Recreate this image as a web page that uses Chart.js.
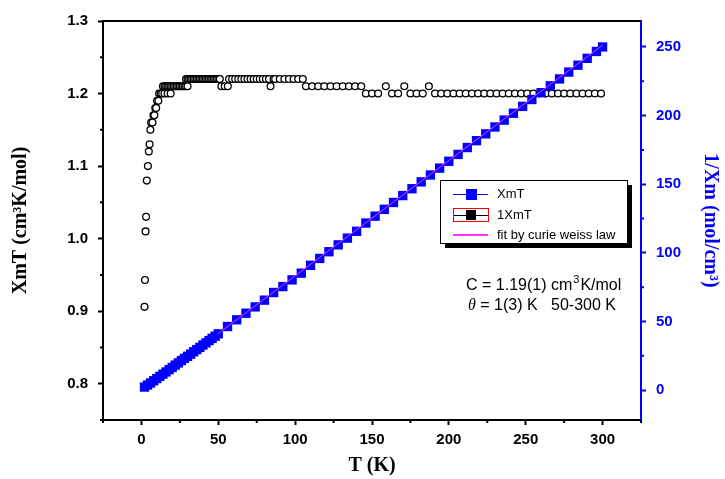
<!DOCTYPE html>
<html>
<head>
<meta charset="utf-8">
<script src="https://cdn.jsdelivr.net/npm/chart.js@4.4.0/dist/chart.umd.min.js"></script>
<style>
  html, body { margin: 0; padding: 0; background: #fff; }
  #wrap { width: 725px; height: 479px; }
</style>
</head>
<body>
<div id="wrap"><canvas id="chart" width="725" height="479"></canvas></div>
<script>
// XmT, open circles (left axis)
const circT = [2, 2.3, 2.7, 3.0, 3.5, 4.2, 4.8, 5.3, 5.8, 6.3, 7.2, 7.8, 8.4, 9.0, 9.6, 10.2, 11.0,
    11.5, 12.5, 13.5, 15, 17, 19,
    14, 15, 16, 17, 18, 19, 20, 21, 22, 23, 24, 25, 26, 27, 28, 29, 30,
    29, 30, 31, 32, 33, 34, 35, 36, 37, 38, 39, 40, 41, 42, 43, 44, 45, 46, 47, 48, 49, 50, 51,
    52, 54.2, 56.2,
    57, 59, 61, 63, 65, 67, 69, 71, 73, 75, 77, 79, 81, 83,
    84, 86, 87, 90, 93, 96, 99, 102, 105,
    107, 111, 115, 119, 123, 127, 131, 135, 139, 143,
    146, 150, 154, 159, 163, 167, 171, 175, 179, 183, 187,
    191, 195, 199, 203, 207, 211, 215, 219, 223, 227, 231, 235, 239, 243, 247, 251, 255, 259,
    263, 267, 271, 275, 279, 283, 287, 291, 295, 299]
const circV = [0.906, 0.943, 1.01, 1.03, 1.08, 1.10, 1.12, 1.13, 1.15, 1.16, 1.16, 1.17, 1.17, 1.18, 1.18, 1.19, 1.19,
    1.20, 1.20, 1.20, 1.20, 1.20, 1.20,
    1.21, 1.21, 1.21, 1.21, 1.21, 1.21, 1.21, 1.21, 1.21, 1.21, 1.21, 1.21, 1.21, 1.21, 1.21, 1.21, 1.21,
    1.22, 1.22, 1.22, 1.22, 1.22, 1.22, 1.22, 1.22, 1.22, 1.22, 1.22, 1.22, 1.22, 1.22, 1.22, 1.22, 1.22, 1.22, 1.22, 1.22, 1.22, 1.22, 1.22,
    1.21, 1.21, 1.21,
    1.22, 1.22, 1.22, 1.22, 1.22, 1.22, 1.22, 1.22, 1.22, 1.22, 1.22, 1.22, 1.22, 1.22,
    1.21, 1.22, 1.22, 1.22, 1.22, 1.22, 1.22, 1.22, 1.22,
    1.21, 1.21, 1.21, 1.21, 1.21, 1.21, 1.21, 1.21, 1.21, 1.21,
    1.20, 1.20, 1.20, 1.21, 1.20, 1.20, 1.21, 1.20, 1.20, 1.20, 1.21,
    1.20, 1.20, 1.20, 1.20, 1.20, 1.20, 1.20, 1.20, 1.20, 1.20, 1.20, 1.20, 1.20, 1.20, 1.20, 1.20, 1.20, 1.20,
    1.20, 1.20, 1.20, 1.20, 1.20, 1.20, 1.20, 1.20, 1.20, 1.20]

// 1/Xm, blue squares (right axis)
const invT = [2, 4, 6, 8, 10, 12, 14, 16, 18, 20, 22, 24, 26, 28, 30, 32, 34, 36, 38, 40, 42, 44, 46, 48, 50,
    56, 62, 68, 74, 80, 86, 92, 98, 104, 110, 116, 122, 128, 134, 140, 146, 152, 158, 164, 170,
    176, 182, 188, 194, 200, 206, 212, 218, 224, 230, 236, 242, 248, 254, 260, 266, 272, 278, 284, 290, 296, 300]
const invV = [2.2, 3.7, 5.2, 6.8, 8.4, 10.0, 11.6, 13.2, 14.9, 16.5, 18.2, 19.8, 21.5, 23.1, 24.6, 26.2, 27.9, 29.5, 31.1, 32.8, 34.4, 36.1, 37.7, 39.3, 41.0,
    46.3, 51.2, 56.0, 60.6, 65.5, 71.1, 75.4, 80.3, 85.2, 90.9, 95.9, 100.8, 105.8, 110.7, 115.7, 121.7, 126.7, 131.7, 136.7, 141.7,
    146.7, 151.7, 156.7, 161.7, 166.7, 171.7, 176.7, 181.7, 186.7, 191.7, 196.7, 201.7, 206.7, 211.7, 216.7, 221.7, 226.7, 231.7, 236.7, 241.7, 246.7, 250.0]

// curie weiss fit, 50-300 K
const fitT = [50, 300]
const fitV = [41.2, 251.3]

const xTicks = [0, 50, 100, 150, 200, 250, 300]
const xMinor = [-25, 25, 75, 125, 175, 225, 275, 325]
const yTicks = [0.8, 0.9, 1.0, 1.1, 1.2, 1.3]
const yMinor = [0.75, 0.85, 0.95, 1.05, 1.15, 1.25]
const y2Ticks = [0, 50, 100, 150, 200, 250]
const y2Minor = [25, 75, 125, 175, 225]

const BLUE = '#0000ff'
const PINK = '#ff33ff'
const tickFont = { family: 'Liberation Sans, Arial, sans-serif', weight: 'bold', size: 15 }
const titleFont = { family: 'Liberation Serif, Times New Roman, serif', weight: 'bold', size: 20 }

function pts(xs, ys) {
    return xs.map((x, i) => ({ x: x, y: ys[i] }))
}

// minor ticks and the top frame line
const frame = {
    id: 'frame',
    afterDraw(chart) {
        const { ctx, chartArea: a, scales } = chart
        ctx.save()
        ctx.lineWidth = 2
        ctx.strokeStyle = '#000'
        ctx.beginPath()
        xMinor.forEach(v => {
            const px = scales.x.getPixelForValue(v)
            ctx.moveTo(px, a.bottom)
            ctx.lineTo(px, a.bottom + 3)
        })
        yMinor.forEach(v => {
            const py = scales.y.getPixelForValue(v)
            ctx.moveTo(a.left, py)
            ctx.lineTo(a.left - 3, py)
        })
        ctx.moveTo(a.left - 1, a.top)
        ctx.lineTo(a.right, a.top)
        ctx.stroke()

        ctx.strokeStyle = BLUE
        ctx.beginPath()
        y2Minor.forEach(v => {
            const py = scales.y2.getPixelForValue(v)
            ctx.moveTo(a.right, py)
            ctx.lineTo(a.right + 3, py)
        })
        ctx.stroke()
        ctx.restore()
    }
}

// boxed legend with drop shadow, plus the fit result text
const legendBox = {
    id: 'legendBox',
    afterDraw(chart) {
        const ctx = chart.ctx
        const labels = chart.data.datasets.map(d => d.label)
        const bx = 440, by = 180, bw = 187, bh = 63

        ctx.save()
        ctx.fillStyle = '#000'
        ctx.fillRect(bx + 5, by + 5, bw, bh)
        ctx.fillStyle = '#fff'
        ctx.fillRect(bx, by, bw, bh)
        ctx.lineWidth = 1
        ctx.strokeStyle = '#000'
        ctx.strokeRect(bx + 0.5, by + 0.5, bw, bh)

        const rows = [194, 215, 235]
        // XmT
        ctx.strokeStyle = BLUE
        ctx.beginPath(); ctx.moveTo(453, rows[0] + 0.5); ctx.lineTo(488, rows[0] + 0.5); ctx.stroke()
        ctx.fillStyle = BLUE
        ctx.fillRect(466, rows[0] - 5, 11, 11)
        // 1XmT
        ctx.strokeStyle = '#ff0000'
        ctx.strokeRect(453.5, rows[1] - 6.5, 35, 13)
        ctx.strokeStyle = '#000'
        ctx.beginPath(); ctx.moveTo(454, rows[1] + 0.5); ctx.lineTo(488, rows[1] + 0.5); ctx.stroke()
        ctx.fillStyle = '#000'
        ctx.fillRect(466, rows[1] - 5, 10, 10)
        // fit
        ctx.strokeStyle = PINK
        ctx.lineWidth = 2
        ctx.beginPath(); ctx.moveTo(453, rows[2]); ctx.lineTo(488, rows[2]); ctx.stroke()

        ctx.fillStyle = '#000'
        ctx.font = '13px Liberation Sans, Arial, sans-serif'
        ctx.textBaseline = 'middle'
        ctx.textAlign = 'left'
        labels.forEach((t, i) => ctx.fillText(t, 497, rows[i]))

        // fit result
        const tx = 466
        ctx.font = '16px Liberation Sans, Arial, sans-serif'
        const s = 'C = 1.19(1) cm'
        ctx.fillText(s, tx, 286)
        const w = ctx.measureText(s).width
        ctx.font = '11px Liberation Sans, Arial, sans-serif'
        ctx.fillText('3', tx + w + 1, 280)
        const w3 = ctx.measureText('3').width
        ctx.font = '16px Liberation Sans, Arial, sans-serif'
        ctx.fillText('K/mol', tx + w + w3 + 2, 286)

        ctx.font = 'italic 16px Liberation Serif, Times New Roman, serif'
        ctx.fillText('\u03b8', tx + 2, 306)
        const wt = ctx.measureText('\u03b8').width
        ctx.font = '16px Liberation Sans, Arial, sans-serif'
        ctx.fillText(' = 1(3) K   50-300 K', tx + 2 + wt, 306)
        ctx.restore()
    }
}

document.addEventListener('DOMContentLoaded', function () {
    const config = {
        type: 'scatter',
        data: {
            datasets: [{
                label: 'XmT',
                data: pts(invT, invV),
                yAxisID: 'y2',
                showLine: true,
                borderColor: BLUE,
                borderWidth: 1,
                backgroundColor: BLUE,
                pointStyle: 'rect',
                pointRadius: 6.6,
                pointBorderWidth: 0,
                order: 1
            }, {
                label: '1XmT',
                data: pts(circT, circV),
                yAxisID: 'y',
                showLine: false,
                borderColor: '#000',
                backgroundColor: '#fff',
                pointStyle: 'circle',
                pointRadius: 3.4,
                pointBorderWidth: 1.3,
                order: 2
            }, {
                label: 'fit by curie weiss law',
                data: pts(fitT, fitV),
                yAxisID: 'y2',
                showLine: true,
                borderColor: PINK,
                borderWidth: 1,
                pointRadius: 0,
                order: 0
            }]
        },
        options: {
            responsive: false,
            animation: false,
            layout: { padding: { top: 21, left: 0, right: 0, bottom: 0 } },
            plugins: { legend: { display: false }, tooltip: { enabled: false } },
            scales: {
                x: {
                    type: 'linear',
                    position: 'bottom',
                    min: -25,
                    max: 325,
                    afterFit: s => { s.height = 59 },
                    afterBuildTicks: s => { s.ticks = xTicks.map(v => ({ value: v })) },
                    grid: { drawOnChartArea: false, tickLength: 5, tickWidth: 2, tickColor: '#000' },
                    border: { color: '#000', width: 2 },
                    ticks: { font: tickFont, color: '#000', padding: 6, maxRotation: 0, callback: v => v },
                    title: { display: true, text: 'T (K)', font: titleFont, color: '#000', padding: { top: 0, bottom: 1 } }
                },
                y: {
                    type: 'linear',
                    position: 'left',
                    min: 0.75,
                    max: 1.3,
                    afterFit: s => { s.width = 103 },
                    afterBuildTicks: s => { s.ticks = yTicks.map(v => ({ value: v })) },
                    grid: { drawOnChartArea: false, tickLength: 5, tickWidth: 2, tickColor: '#000' },
                    border: { color: '#000', width: 2 },
                    ticks: { font: tickFont, color: '#000', padding: 10, callback: v => v.toFixed(1) },
                    title: { display: true, text: 'XmT (cm\u00b3K/mol)', font: titleFont, color: '#000', padding: { top: 9, bottom: 0 } }
                },
                y2: {
                    type: 'linear',
                    position: 'right',
                    min: -21.8,
                    max: 268.9,
                    afterFit: s => { s.width = 84 },
                    afterBuildTicks: s => { s.ticks = y2Ticks.map(v => ({ value: v })) },
                    grid: { drawOnChartArea: false, tickLength: 5, tickWidth: 2, tickColor: BLUE },
                    border: { color: BLUE, width: 2 },
                    ticks: { font: tickFont, color: BLUE, padding: 10, callback: v => v },
                    title: { display: true, text: '1/Xm (mol/cm\u00b3)', font: titleFont, color: BLUE, padding: { top: 3, bottom: 0 } }
                }
            }
        },
        plugins: [frame, legendBox]
    }

    const ctx = document.getElementById('chart').getContext('2d')
    const myChart = new Chart(ctx, config)
})
</script>
</body>
</html>
